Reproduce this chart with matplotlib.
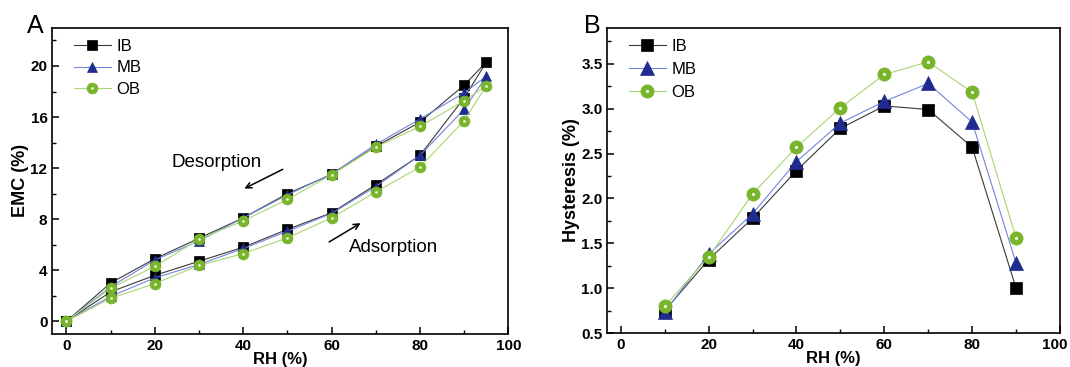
import numpy as np
import matplotlib
matplotlib.use("Agg")
import matplotlib.pyplot as plt
from matplotlib.ticker import MultipleLocator, FormatStrFormatter, FuncFormatter
from matplotlib.legend_handler import HandlerTuple

# Fonts: Arial-like everywhere
matplotlib.rcParams['font.family'] = ['Liberation Sans', 'DejaVu Sans']

############ DATA ##############
# Panel A: sorption isotherms (adsorption goes up to 95 %, desorption comes back)
rh_ads = [0, 10, 20, 30, 40, 50, 60, 70, 80, 90, 95]
rh_des = [90, 80, 70, 60, 50, 40, 30, 20, 10, 0]

ib_ads = [0, 2.3, 3.6, 4.7, 5.8, 7.2, 8.5, 10.7, 13.0, 17.5, 20.3]
ib_des = [18.5, 15.6, 13.7, 11.5, 10.0, 8.1, 6.5, 4.9, 3.0, 0]
mb_ads = [0, 1.95, 3.4, 4.45, 5.7, 7.05, 8.45, 10.55, 13.0, 16.6, 19.2]
mb_des = [17.9, 15.85, 13.85, 11.55, 9.9, 8.1, 6.3, 4.8, 2.7, 0]
ob_ads = [0, 1.8, 2.95, 4.38, 5.3, 6.53, 8.1, 10.13, 12.08, 15.72, 18.45]
ob_des = [17.28, 15.26, 13.65, 11.48, 9.54, 7.87, 6.43, 4.3, 2.6, 0]

# Panel B: hysteresis
rh_hys = [10, 20, 30, 40, 50, 60, 70, 80, 90]
ib_hys = [0.75, 1.32, 1.78, 2.31, 2.78, 3.03, 2.99, 2.57, 1.0]
mb_hys = [0.74, 1.38, 1.83, 2.41, 2.84, 3.08, 3.28, 2.85, 1.28]
ob_hys = [0.80, 1.35, 2.05, 2.57, 3.01, 3.38, 3.52, 3.18, 1.56]

labels = ['IB', 'MB', 'OB']
################################

# styles: (line colour, marker, marker colour, marker scale)
styles = [('#3a3a3a', 's', '#000000', 1.0),
          ('#7384dc', '^', '#1f2b8f', 1.12),
          ('#a8d672', 'o', '#78b42c', 1.12)]

fig = plt.figure(figsize=(10.70, 3.67), dpi=100)
axA = fig.add_axes([0.0489, 0.0899, 0.4262, 0.8346])
axB = fig.add_axes([0.5676, 0.0918, 0.4231, 0.8327])


def draw(ax, x, y, st, lab, ms0):
    lc, mk, mc, sc = st
    ms = ms0 * sc
    ln, = ax.plot(x, y, color=lc, lw=0.8, marker=mk, ms=ms, mfc=mc, mec=mc,
                  mew=0.5, label=lab)
    if mk == 'o':
        hl, = ax.plot(x, y, ls='none', marker='o', ms=ms * 0.25, mfc='#eef7dd',
                      mec='none')
        return (ln, hl)
    return ln


handlesA = []
for (ads, des), st, lab in zip([(ib_ads, ib_des), (mb_ads, mb_des), (ob_ads, ob_des)],
                               styles, labels):
    x = np.concatenate([rh_ads, rh_des])
    y = np.concatenate([ads, des])
    handlesA.append(draw(axA, x, y, st, lab, 7.0))

handlesB = []
for hy, st, lab in zip([ib_hys, mb_hys, ob_hys], styles, labels):
    handlesB.append(draw(axB, rh_hys, hy, st, lab, 8.5))

# Axis ranges and ticks
axA.set_xlim(-3.2, 100)
axA.set_ylim(-1, 23)
axA.xaxis.set_major_locator(MultipleLocator(20))
axA.xaxis.set_minor_locator(MultipleLocator(10))
axA.yaxis.set_major_locator(MultipleLocator(4))
axA.yaxis.set_minor_locator(MultipleLocator(2))

axB.set_xlim(-3.05, 100)
axB.set_ylim(0.5, 3.9)
axB.xaxis.set_major_locator(MultipleLocator(20))
axB.xaxis.set_minor_locator(MultipleLocator(10))
# the "100" label at the right edge is drawn separately so it stays on the canvas
axB.xaxis.set_major_formatter(FuncFormatter(lambda v, p: '' if v >= 100 else '%d' % v))
axB.yaxis.set_major_locator(MultipleLocator(0.5))
axB.yaxis.set_minor_locator(MultipleLocator(0.25))
axB.yaxis.set_major_formatter(FormatStrFormatter('%.1f'))

for ax in [axA, axB]:
    for sp in ax.spines.values():
        sp.set_linewidth(1.2)
    ax.tick_params(which='major', direction='in', length=5, width=1.1,
                   labelsize=11, pad=3.5)
    ax.tick_params(which='minor', direction='in', length=3, width=1.0)
    for t in ax.get_xticklabels() + ax.get_yticklabels():
        t.set_fontweight('bold')
    ax.set_xlabel('RH (%)', fontsize=12, fontweight='bold')
    ax.xaxis.set_label_coords(0.5, -0.059)

axB.text(0.9885, -0.0155, '100', transform=axB.transAxes, ha='center', va='top',
         fontsize=11, fontweight='bold')

axA.set_ylabel('EMC (%)', fontsize=13, fontweight='bold')
axA.yaxis.set_label_coords(-0.051, 0.5)
axB.set_ylabel('Hysteresis (%)', fontsize=13, fontweight='bold')
axB.yaxis.set_label_coords(-0.060, 0.5)

# Legends
for ax, hs, sp in [(axA, handlesA, 0.38), (axB, handlesB, 0.48)]:
    ax.legend(hs, labels, loc='upper left', bbox_to_anchor=(0.015, 1.012),
              frameon=False, fontsize=12, handlelength=2.2, handletextpad=0.35,
              labelspacing=sp, borderaxespad=0.5,
              handler_map={tuple: HandlerTuple(ndivide=1, pad=0)})

# Annotations on panel A
axA.annotate('', xy=(39.7, 10.3), xytext=(49.5, 12.0),
             arrowprops=dict(arrowstyle='->', color='black', lw=1.1))
axA.text(34, 12.4, 'Desorption', fontsize=13.5, ha='center', va='center')
axA.annotate('', xy=(67.1, 7.8), xytext=(58.9, 6.1),
             arrowprops=dict(arrowstyle='->', color='black', lw=1.1))
axA.text(74, 5.8, 'Adsorption', fontsize=13.5, ha='center', va='center')

# Panel letters
fig.text(27 / 1070, 1 - 33 / 367, 'A', fontsize=18, ha='left', va='baseline')
fig.text(584 / 1070, 1 - 33 / 367, 'B', fontsize=18, ha='left', va='baseline')

fig.savefig('out.png', dpi=100)
